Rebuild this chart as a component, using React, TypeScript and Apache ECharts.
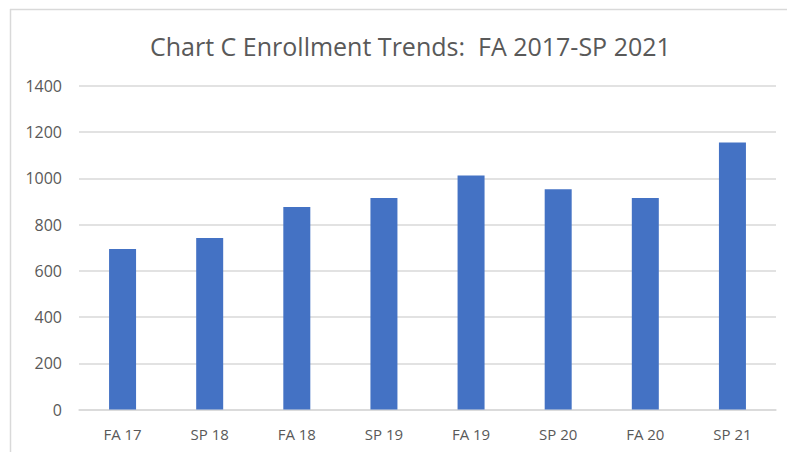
import React, { useEffect, useRef } from "react";
import * as echarts from "echarts";

const categories = ["FA 17", "SP 18", "FA 18", "SP 19", "FA 19", "SP 20", "FA 20", "SP 21"];
const enrollment = [695, 742, 876, 915, 1013, 953, 915, 1156];
const titleText = "Chart C Enrollment Trends:  FA 2017-SP 2021";

export default function App() {
  const ref = useRef<HTMLDivElement>(null);
  useEffect(() => {
    if (!ref.current) return;
    const chart = echarts.init(ref.current, undefined, { renderer: "svg" });
    chart.setOption({
      animation: false,
      backgroundColor: "#ffffff",
      title: {
        text: titleText,
        left: 145,
        top: 28,
        textStyle: {
          fontFamily: "Open Sans",
          fontSize: 25,
          fontWeight: "normal",
          color: "#595959",
        },
      },
      graphic: [
        { type: "line", shape: { x1: 10, y1: 9.5, x2: 787, y2: 9.5 }, style: { stroke: "#d9d9d9", lineWidth: 1.5 } },
        { type: "line", shape: { x1: 10.5, y1: 9, x2: 10.5, y2: 452 }, style: { stroke: "#d9d9d9", lineWidth: 1.5 } },
      ],
      grid: { left: 79, right: 11, top: 86, bottom: 42.5 },
      xAxis: {
        type: "category",
        data: categories,
        axisLine: { lineStyle: { color: "#d9d9d9", width: 1.5 } },
        axisTick: { show: false },
        axisLabel: { color: "#595959", fontFamily: "Open Sans", fontSize: 15, margin: 17 },
      },
      yAxis: {
        type: "value",
        min: 0,
        max: 1400,
        interval: 200,
        axisLine: { show: false },
        axisTick: { show: false },
        splitLine: { lineStyle: { color: "#d9d9d9", width: 1.5 } },
        axisLabel: {
          color: "#595959",
          fontFamily: "Open Sans",
          fontSize: 16,
          margin: 17,
          formatter: (v: number) => String(v),
        },
      },
      series: [
        {
          type: "bar",
          data: enrollment,
          barWidth: 27,
          itemStyle: { color: "#4472C4" },
        },
      ],
    });
    return () => chart.dispose();
  }, []);
  return <div ref={ref} style={{ position: "absolute", left: 0, top: 0, width: 787, height: 452 }} />;
}
